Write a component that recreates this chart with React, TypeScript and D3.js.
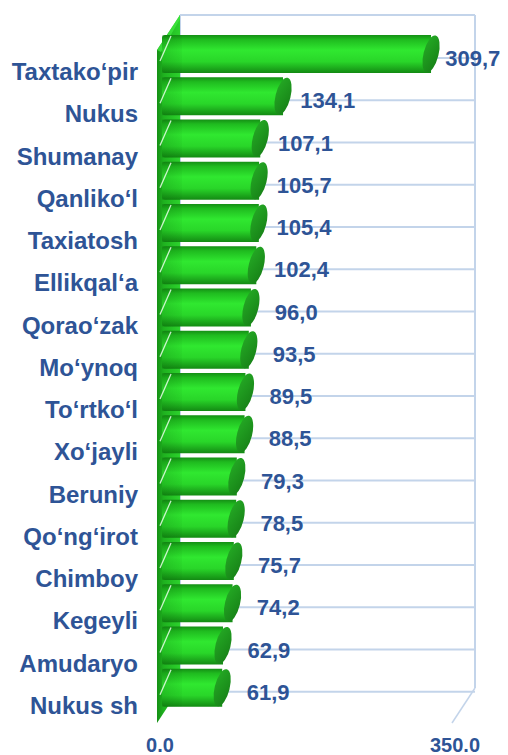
import React from "react";
import * as d3 from "d3";

const categories = [
  "Taxtako‘pir", "Nukus", "Shumanay", "Qanliko‘l", "Taxiatosh", "Ellikqal‘a",
  "Qorao‘zak", "Mo‘ynoq", "To‘rtko‘l", "Xo‘jayli", "Beruniy", "Qo‘ng‘irot",
  "Chimboy", "Kegeyli", "Amudaryo", "Nukus sh",
];
const values = [309.7, 134.1, 107.1, 105.7, 105.4, 102.4, 96.0, 93.5, 89.5, 88.5, 79.3, 78.5, 75.7, 74.2, 62.9, 61.9];
const axisTicks = [0, 350];

const W = 508, H = 755;
const BLUE = "#2E5496";
const GRID = "#C3D4EA";
const FONT = "'Liberation Sans', Arial, sans-serif";

export default function App() {
  const x = d3.scaleLinear().domain([0, 350]).range([170, 465]);
  const xFront = d3.scaleLinear().domain([0, 350]).range([160, 455]);
  const xLabel = d3.scaleLinear().domain([0, 350]).range([217, 506]);
  const y = d3.scaleBand<number>().domain(d3.range(categories.length)).range([35, 35 + 42 * categories.length]).paddingInner(4 / 42).paddingOuter(0);
  const bh = 38;
  const backL = 180, backR = 475, top = 15, bottom = 688;
  const dx = -23, dy = 35;
  const fmt = (v: number) => v.toFixed(1).replace(".", ",");

  return (
    <svg width={W} height={H} style={{ position: "absolute", left: 0, top: 0, background: "#fff" }} fontFamily={FONT}>
      <defs>
        <linearGradient id="barG" x1="0" y1="0" x2="0" y2="1">
          <stop offset="0" stopColor="#158f15" />
          <stop offset="0.12" stopColor="#1fbb1f" />
          <stop offset="0.4" stopColor="#30e830" />
          <stop offset="0.7" stopColor="#29d629" />
          <stop offset="1" stopColor="#138a13" />
        </linearGradient>
        <linearGradient id="capG" x1="0" y1="0" x2="1" y2="1">
          <stop offset="0" stopColor="#25ac25" />
          <stop offset="1" stopColor="#167e16" />
        </linearGradient>
        <linearGradient id="wallG" x1="0" y1="0" x2="1" y2="0">
          <stop offset="0" stopColor="#159015" />
          <stop offset="0.3" stopColor="#1fb21f" />
          <stop offset="1" stopColor="#2cd22c" />
        </linearGradient>
        <linearGradient id="wallShade" x1="0" y1="0" x2="1" y2="0">
          <stop offset="0" stopColor="#004400" stopOpacity="0.18" />
          <stop offset="1" stopColor="#004400" stopOpacity="0.04" />
        </linearGradient>
      </defs>

      {/* back wall frame */}
      <line x1={backL} y1={top} x2={backR} y2={top} stroke={GRID} strokeWidth={2} />
      <line x1={backR} y1={top} x2={backR} y2={bottom} stroke={GRID} strokeWidth={2} />
      <line x1={backR} y1={bottom} x2={backR + dx} y2={bottom + dy} stroke={GRID} strokeWidth={1.5} />
      <line x1={backL} y1={top} x2={backL} y2={bottom} stroke={GRID} strokeWidth={2} />
      {categories.map((_, i) => {
        const gy = (y(i) as number) + 23;
        return <line key={"g" + i} x1={backL} y1={gy} x2={backR} y2={gy} stroke={GRID} strokeWidth={2} />;
      })}

      {/* left side wall */}
      <polygon
        points={`${backL},${top} ${backL},${bottom} ${backL + dx},${bottom + dy} ${backL + dx},${top + dy}`}
        fill="url(#wallG)"
      />
      <polygon
        points={`${backL},${top} ${backL + dx},${top + dy} ${backL + dx + 4},${top + dy + 2} ${backL},${top + 4}`}
        fill="#3ee63e" opacity={0.8}
      />

      {/* bars */}
      {values.map((v, i) => {
        const by = y(i) as number;
        const xe = x(v);
        const x0 = 162;
        return (
          <g key={"b" + i}>
            <path
              d={`M${x0},${by + 3} Q${x0},${by} ${x0 + 3},${by} L${xe},${by} L${xe},${by + bh} L${x0 + 3},${by + bh} Q${x0},${by + bh} ${x0},${by + bh - 3} Z`}
              fill="url(#barG)"
            />
            <rect x={x0} y={by} width={backL - x0 + 2} height={bh} fill="url(#wallShade)" />
            <ellipse cx={xe} cy={by + bh / 2} rx={7.5} ry={bh / 2} transform={`rotate(14 ${xe} ${by + bh / 2})`} fill="url(#capG)" />
            <line x1={x0 - 2} y1={by + 26} x2={x0 + 9} y2={by + 1} stroke="#eaffea" strokeWidth={1.3} opacity={0.85} />
          </g>
        );
      })}

      {/* category labels */}
      {categories.map((c, i) => (
        <text key={"c" + i} x={138} y={(y(i) as number) + 19 + 26} textAnchor="end" fontSize={24} fontWeight="bold" fill={BLUE}>
          {c}
        </text>
      ))}

      {/* value labels */}
      {values.map((v, i) => (
        <text key={"v" + i} x={xLabel(v)} y={(y(i) as number) + 19 + 12} textAnchor="middle" fontSize={22} fontWeight="bold" fill={BLUE}>
          {fmt(v)}
        </text>
      ))}

      {/* axis labels */}
      {axisTicks.map((t) => (
        <text key={"t" + t} x={xFront(t)} y={752} textAnchor="middle" fontSize={20} fontWeight="bold" fill={BLUE}>
          {t.toFixed(1)}
        </text>
      ))}
    </svg>
  );
}
